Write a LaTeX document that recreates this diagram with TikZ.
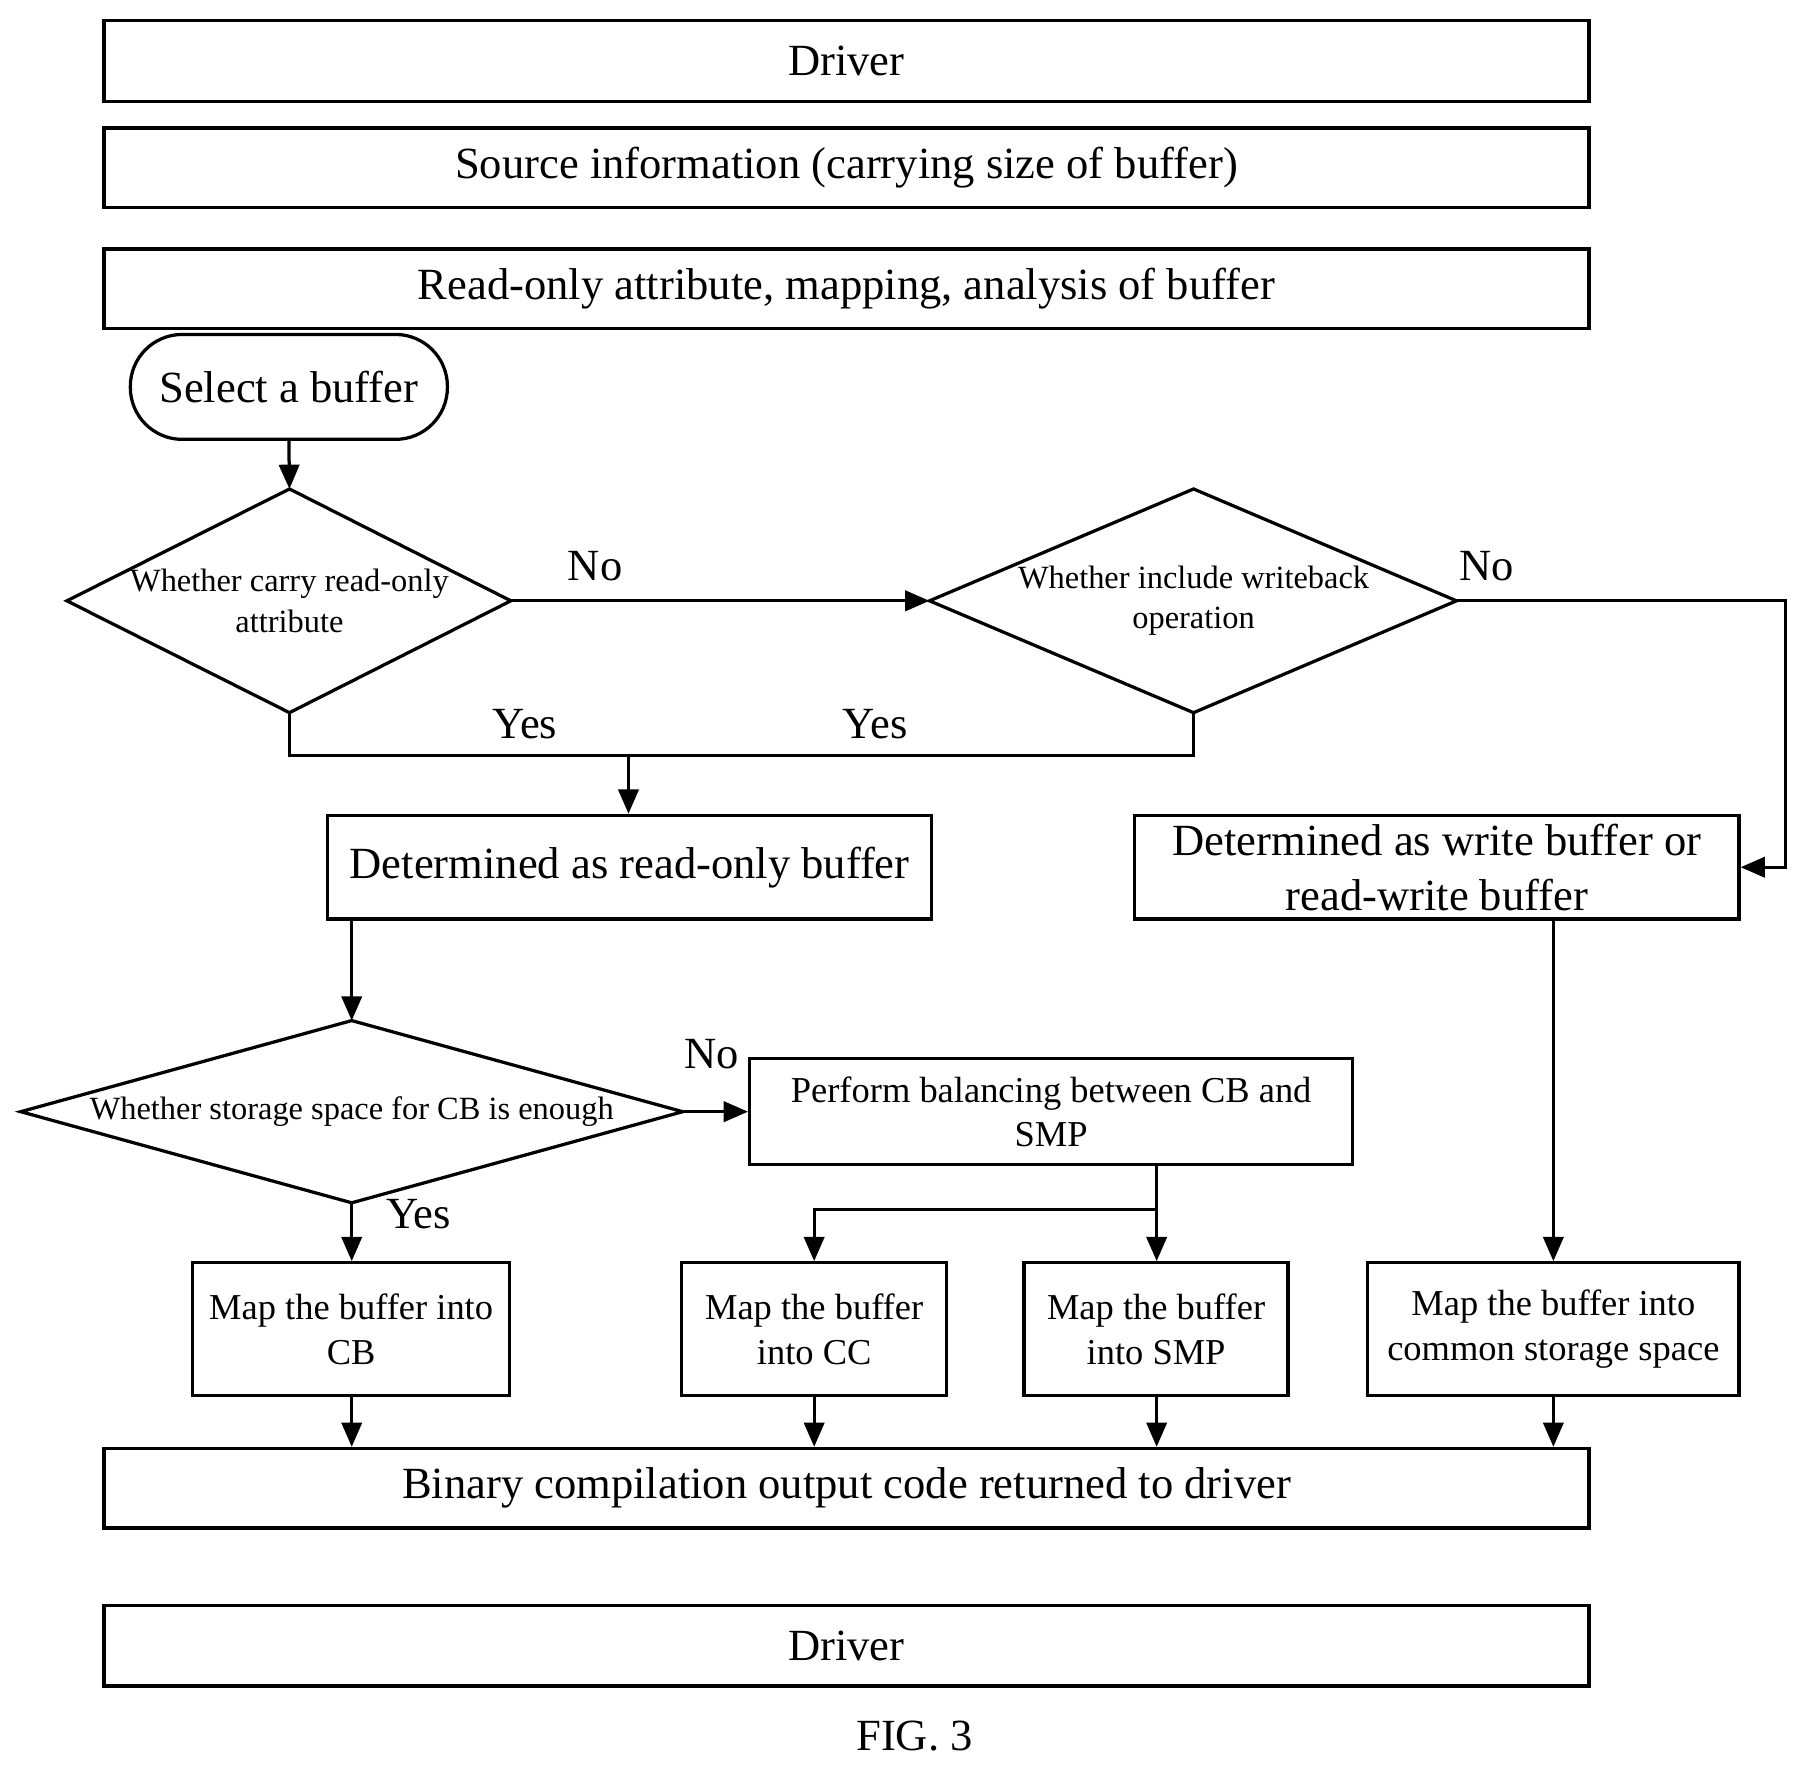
\documentclass[tikz,border=0pt]{standalone}
\usepackage{fontspec}
\setmainfont{Liberation Serif}
\usetikzlibrary{arrows.meta}
\begin{document}
\begin{tikzpicture}[x=0.02cm,y=-0.02cm,line width=1.6pt,
  big/.style={draw,rectangle,inner sep=0pt,font=\fontsize{22}{27}\selectfont,align=center},
  mid/.style={draw,rectangle,inner sep=0pt,font=\fontsize{18}{22}\selectfont,align=center},
  lab/.style={font=\fontsize{22}{26}\selectfont,inner sep=0pt},
  dtext/.style={font=\fontsize{16}{20}\selectfont,align=center,inner sep=0pt},
  arr/.style={-{Triangle[length=12pt,width=10pt]}}]
\useasboundingbox (0,0) rectangle (1560,1531);
\node[big,minimum width=25.76cm,minimum height=1.4cm] (drv) at (734,53) {Driver};
\node[big,minimum width=25.76cm,minimum height=1.38cm] (src) at (734,145.5) {Source information (carrying size of buffer)};
\node[big,minimum width=25.76cm,minimum height=1.38cm] (ro) at (734,250.5) {Read-only attribute, mapping, analysis of buffer};
\node[big,minimum width=5.5cm,minimum height=1.82cm,rounded corners=0.9cm] (sel) at (250.5,335.5) {Select a buffer};
% diamond 1
\coordinate (d1t) at (251,424); \coordinate (d1b) at (251,618);
\coordinate (d1l) at (58,521); \coordinate (d1r) at (443,521);
\draw (d1t)--(d1r)--(d1b)--(d1l)--cycle;
\node[dtext] (d1) at (251,521) {Whether carry read-only\\attribute};
% diamond 2
\coordinate (d2t) at (1035,424); \coordinate (d2b) at (1035,618);
\coordinate (d2l) at (806,521); \coordinate (d2r) at (1263,521);
\draw (d2t)--(d2r)--(d2b)--(d2l)--cycle;
\node[dtext] (d2) at (1035,521) {Whether include writeback\\operation};
\draw[arr] (sel.south) -- (d1t);
\draw[arr] (d1r) -- (d2l);
\node[lab] at (516,491) {No};
\node[lab] at (1289,491) {No};
\node[big,minimum width=10.48cm,minimum height=1.8cm] (rob) at (546,752) {Determined as read-only buffer};
\node[big,minimum width=10.48cm,minimum height=1.8cm] (wb) at (1246,752) {Determined as write buffer or\\read-write buffer};
\coordinate (c1) at (1548,521); \coordinate (c2) at (1548,752);
\draw[arr] (d2r) -- (c1) -- (c2) -- (wb.east);
\coordinate (y1) at (251,655); \coordinate (y2) at (1035,655); \coordinate (ym) at (545,655);
\draw (d1b) -- (y1) -- (y2) -- (d2b);
\draw[arr] (ym) -- (rob.north -| ym);
\node[lab] at (455,628) {Yes};
\node[lab] at (759,628) {Yes};
% diamond 3
\coordinate (d3t) at (305,885); \coordinate (d3b) at (305,1043);
\coordinate (d3l) at (18,964); \coordinate (d3r) at (592,964);
\draw (d3t)--(d3r)--(d3b)--(d3l)--cycle;
\node[dtext] (d3) at (305,964) {Whether storage space for CB is enough};
\draw[arr] (rob.south -| d3t) -- (d3t);
\node[mid,minimum width=10.46cm,minimum height=1.84cm] (bal) at (911.5,964) {Perform balancing between CB and\\SMP};
\draw[arr] (d3r) -- (bal.west);
\node[lab] at (617,914) {No};
\node[mid,minimum width=5.5cm,minimum height=2.3cm] (mcb) at (304.5,1152.5) {Map the buffer into\\CB};
\node[mid,minimum width=4.6cm,minimum height=2.3cm] (mcc) at (706,1152.5) {Map the buffer\\into CC};
\node[mid,minimum width=4.58cm,minimum height=2.3cm] (msmp) at (1002.5,1152.5) {Map the buffer\\into SMP};
\node[mid,minimum width=6.44cm,minimum height=2.3cm] (mcom) at (1347,1152.5) {Map the buffer into\\common storage space};
\draw[arr] (d3b) -- (mcb.north -| d3b);
\node[lab] at (363,1053) {Yes};
\coordinate (b1) at (1003,1010); \coordinate (b2) at (1003,1049); \coordinate (b3) at (706,1049);
\draw[arr] (b1) -- (msmp.north -| b1);
\draw[arr] (b2) -- (b3) -- (mcc.north);
\draw[arr] (wb.south -| mcom.north) -- (mcom.north);
\node[big,minimum width=25.76cm,minimum height=1.38cm] (bin) at (734,1290.5) {Binary compilation output code returned to driver};
\draw[arr] (mcb.south -| d3b) -- (bin.north -| d3b);
\draw[arr] (mcc.south) -- (bin.north -| mcc.south);
\draw[arr] (msmp.south -| b1) -- (bin.north -| b1);
\draw[arr] (mcom.south) -- (bin.north -| mcom.south);
\node[big,minimum width=25.76cm,minimum height=1.4cm] (drv2) at (734,1427) {Driver};
\node[lab] (fig) at (793,1505) {FIG. 3};
\end{tikzpicture}
\end{document}
